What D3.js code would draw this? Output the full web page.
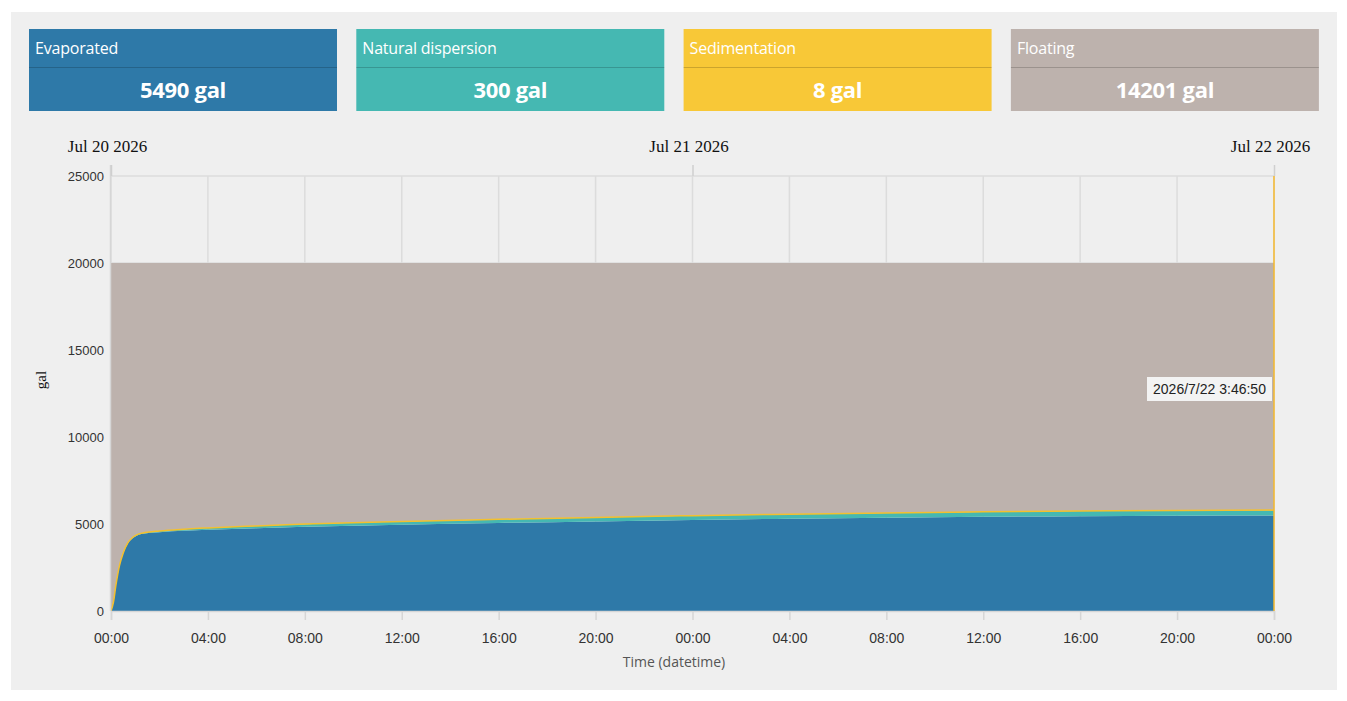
<!DOCTYPE html>
<html>
<head>
<meta charset="utf-8">
<script src="https://cdn.jsdelivr.net/npm/d3@7"></script>
<style>
  body { margin: 0; background: #fff; }
  svg { display: block; }
</style>
</head>
<body>
<svg id="chart" width="1347" height="701"></svg>
<script>
// fate categories and final totals
const categories = ['Evaporated', 'Natural dispersion', 'Sedimentation', 'Floating']
const totals = [5490, 300, 8, 14201]
const colors = ['#2e79a8', '#45b8b2', '#f8c837', '#bdb2ad']

// sample times (hours after Jul 20 2026 00:00) and values in gal
const hours = [0, 0.1, 0.2, 0.35, 0.5, 0.7, 0.9, 1.1, 1.4, 2, 3, 4, 6, 8, 12, 16, 20, 24, 28, 32, 36, 40, 44, 48]
const evaporated = [0, 500, 1450, 2600, 3300, 3900, 4200, 4360, 4450, 4530, 4610, 4670, 4760, 4840, 4960, 5060, 5150, 5230, 5300, 5360, 5410, 5450, 5475, 5490]
const dispersion = [0, 2, 5, 10, 15, 25, 35, 45, 55, 70, 90, 105, 130, 150, 180, 205, 225, 245, 260, 272, 282, 290, 296, 300]
const sedimentation = [0, 0, 0, 0, 0, 1, 1, 1, 1, 1, 2, 2, 2, 3, 3, 4, 5, 5, 6, 6, 7, 7, 8, 8]
const released = 20000

const yTicks = [0, 5000, 10000, 15000, 20000, 25000]
const cursorLabel = '2026/7/22 3:46:50'

const start = Date.UTC(2026, 6, 20)
const rows = hours.map((h, i) => ({
  t: new Date(start + h * 3600e3),
  Evaporated: evaporated[i],
  'Natural dispersion': dispersion[i],
  Sedimentation: sedimentation[i],
  Floating: released - evaporated[i] - dispersion[i] - sedimentation[i]
}))

const svg = d3.select('#chart')

// panel
svg.append('rect')
  .attr('x', 11).attr('y', 12)
  .attr('width', 1326).attr('height', 678)
  .attr('fill', '#efefef')

// summary cards
const cardW = 308, cardGap = 19.3
const cards = svg.selectAll('g.card')
  .data(categories)
  .join('g')
  .attr('class', 'card')
  .attr('transform', (d, i) => `translate(${29 + i * (cardW + cardGap)},29)`)

cards.append('rect')
  .attr('width', cardW).attr('height', 82)
  .attr('fill', (d, i) => colors[i])
cards.append('line')
  .attr('x1', 0).attr('x2', cardW)
  .attr('y1', 38.5).attr('y2', 38.5)
  .attr('stroke', 'rgba(0,0,0,0.18)')
cards.append('text')
  .attr('x', 6).attr('y', 25)
  .attr('fill', '#fff')
  .style('font', '16px "Open Sans", sans-serif')
  .style('letter-spacing', '-0.2px')
  .text(d => d)
cards.append('text')
  .attr('x', cardW / 2).attr('y', 69)
  .attr('text-anchor', 'middle')
  .attr('fill', '#fff')
  .style('font', 'bold 22px "Open Sans", sans-serif')
  .style('letter-spacing', '-0.3px')
  .text((d, i) => totals[i] + ' gal')

// plot
const x = d3.scaleUtc()
  .domain([new Date(start), new Date(start + 48 * 3600e3)])
  .range([111, 1274])
const y = d3.scaleLinear()
  .domain([0, 25000])
  .range([611, 176])

const g = svg.append('g')

// grid
g.append('g')
  .selectAll('line')
  .data(x.ticks(d3.utcHour.every(4)))
  .join('line')
  .attr('x1', d => x(d)).attr('x2', d => x(d))
  .attr('y1', 176).attr('y2', 611)
  .attr('stroke', '#dcdcdc')
  .attr('stroke-width', 1.5)
g.append('g')
  .selectAll('line')
  .data(yTicks)
  .join('line')
  .attr('x1', 111).attr('x2', 1274)
  .attr('y1', d => y(d)).attr('y2', d => y(d))
  .attr('stroke', '#dcdcdc')
  .attr('stroke-width', 1.5)

// stacked areas
const stack = d3.stack().keys(categories)
const series = stack(rows)
const area = d3.area()
  .x(d => x(d.data.t))
  .y0(d => y(d[0]))
  .y1(d => y(d[1]))
  .curve(d3.curveMonotoneX)

g.append('g')
  .selectAll('path')
  .data(series)
  .join('path')
  .attr('d', area)
  .attr('fill', (d, i) => colors[i])

// yellow line along the top of the sedimentation layer
const topLine = d3.line()
  .x(d => x(d.data.t))
  .y(d => y(d[1]))
  .curve(d3.curveMonotoneX)
g.append('path')
  .datum(series[2])
  .attr('d', topLine)
  .attr('fill', 'none')
  .attr('stroke', '#f3c02e')
  .attr('stroke-width', 1.5)

// left axis line
g.append('line')
  .attr('x1', 110.5).attr('x2', 110.5)
  .attr('y1', 165).attr('y2', 611)
  .attr('stroke', '#d6d6d6')
  .attr('stroke-width', 1.5)

// y axis labels
g.append('g')
  .selectAll('text')
  .data(yTicks)
  .join('text')
  .attr('x', 104).attr('y', d => y(d))
  .attr('dy', '0.35em')
  .attr('text-anchor', 'end')
  .attr('fill', '#333')
  .style('font', '13px "Liberation Sans", Arial, sans-serif')
  .text(d => d)

// bottom axis
const xAxis = g.append('g')
  .attr('transform', 'translate(0,611)')
  .call(d3.axisBottom(x)
    .ticks(d3.utcHour.every(4))
    .tickFormat(d3.utcFormat('%H:%M'))
    .tickSize(9)
    .tickPadding(13))
xAxis.select('.domain').attr('stroke', '#d6d6d6').attr('stroke-width', 1.5)
xAxis.selectAll('.tick line').attr('stroke', '#d6d6d6').attr('stroke-width', 1.5)
xAxis.selectAll('.tick text')
  .attr('fill', '#333')
  .style('font', '14px "Liberation Sans", Arial, sans-serif')

// top date axis
const topAxis = g.append('g')
  .attr('transform', 'translate(0,176)')
  .call(d3.axisTop(x)
    .ticks(d3.utcDay.every(1))
    .tickFormat(d3.utcFormat('%b %d %Y'))
    .tickSize(11)
    .tickPadding(13))
topAxis.select('.domain').remove()
topAxis.selectAll('.tick line').attr('stroke', '#cfcfcf').attr('stroke-width', 1.5)
topAxis.selectAll('.tick text')
  .attr('dx', -4)
  .attr('fill', '#111')
  .style('font', '17px "Liberation Serif", "Times New Roman", serif')

// axis titles
svg.append('text')
  .attr('transform', 'translate(46,380) rotate(-90)')
  .attr('text-anchor', 'middle')
  .attr('fill', '#111')
  .style('font', '15px "Liberation Serif", serif')
  .text('gal')
svg.append('text')
  .attr('x', 674).attr('y', 667)
  .attr('text-anchor', 'middle')
  .attr('fill', '#555')
  .style('font', '14px "Open Sans", sans-serif')
  .text('Time (datetime)')

// cursor line and label
const cx = x(new Date(start + 48 * 3600e3))
g.append('line')
  .attr('x1', cx).attr('x2', cx)
  .attr('y1', 176).attr('y2', 611)
  .attr('stroke', '#f5b82e')
  .attr('stroke-width', 1.5)
const tip = g.append('g')
tip.append('rect')
  .attr('x', cx - 127).attr('y', 377)
  .attr('width', 125).attr('height', 24)
  .attr('fill', '#f3f3f3')
tip.append('text')
  .attr('x', cx - 64.5).attr('y', 389)
  .attr('dy', '0.35em')
  .attr('text-anchor', 'middle')
  .attr('fill', '#222')
  .style('font', '14px "Liberation Sans", Arial, sans-serif')
  .text(cursorLabel)
</script>
</body>
</html>
